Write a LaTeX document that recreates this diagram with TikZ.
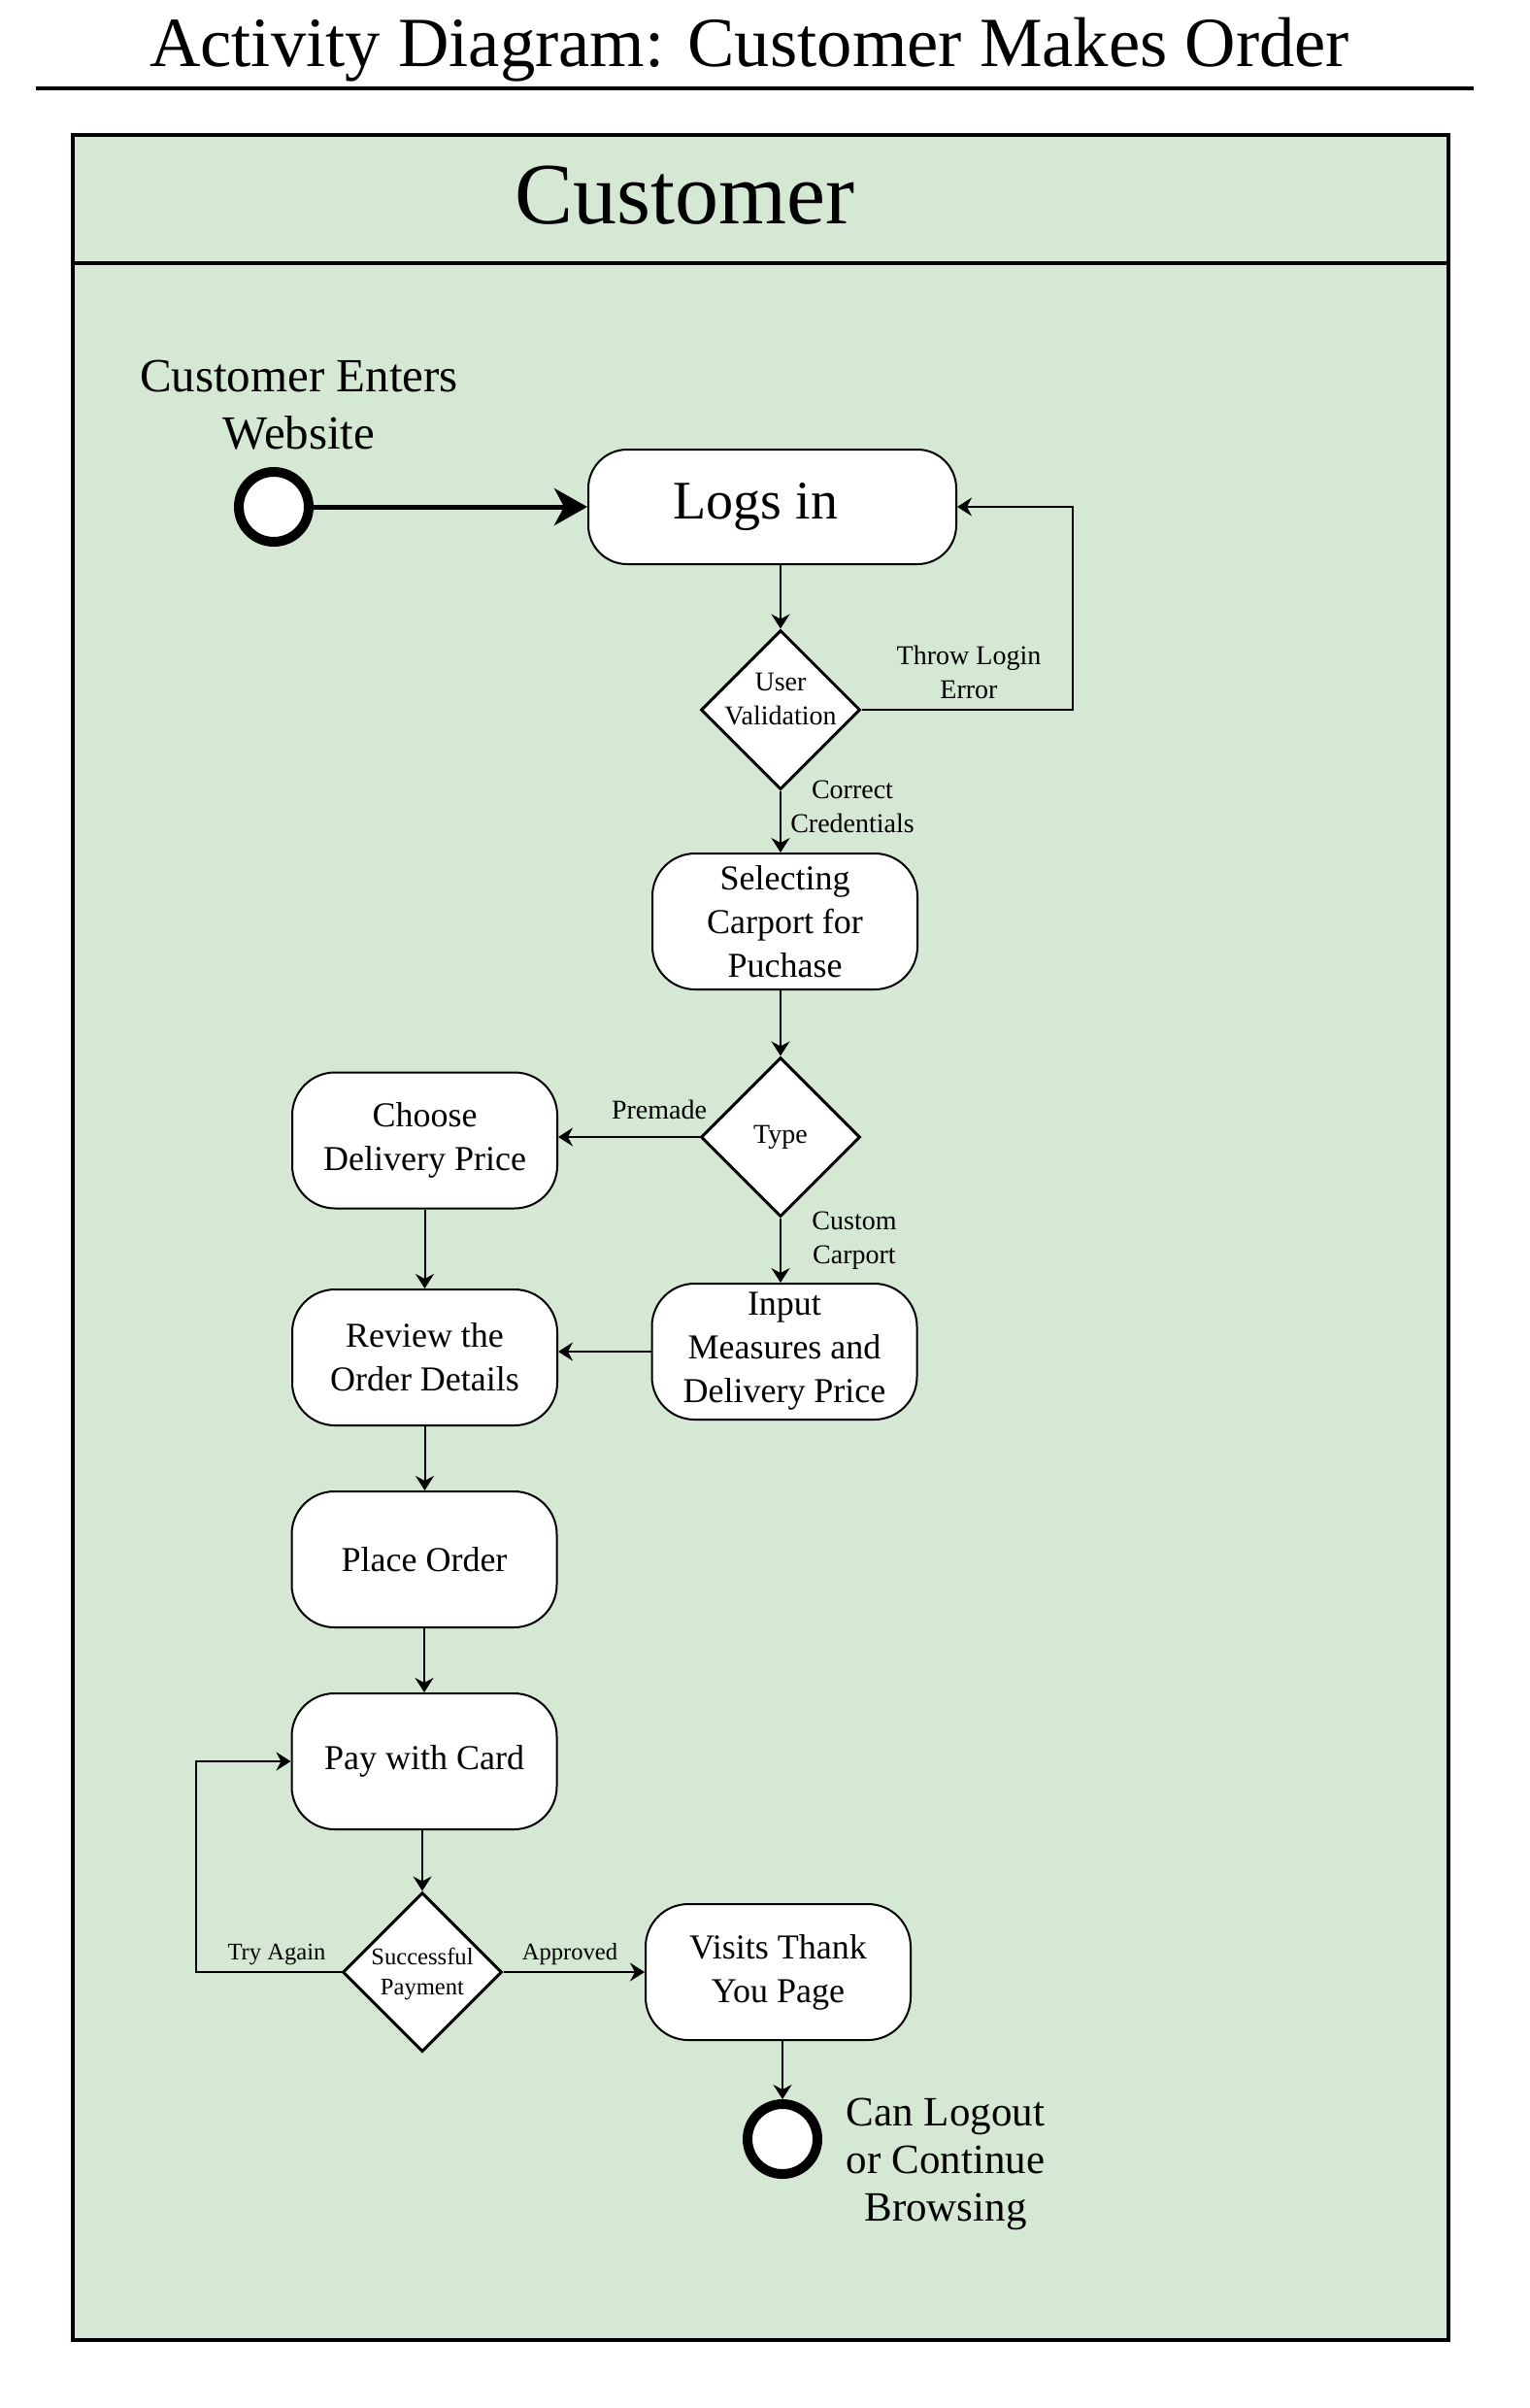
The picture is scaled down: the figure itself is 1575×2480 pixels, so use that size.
\documentclass[tikz,border=0pt]{standalone}
\usepackage{fontspec}
\setmainfont{Liberation Serif}
\usetikzlibrary{arrows.meta,shapes.geometric,calc}
\definecolor{lanegreen}{HTML}{D5E8D4}
\begin{document}
\begin{tikzpicture}[x=0.5pt,y=-0.5pt,
  box/.style={draw, line width=1pt, fill=white, rounded corners=22pt, inner sep=0pt, align=center,
    font=\fontsize{18}{22.5}\selectfont, minimum width=136.5pt, minimum height=70pt},
  dia/.style={draw, diamond, line width=1.5pt, fill=white, inner sep=0pt, minimum width=82pt, minimum height=82pt},
  term/.style={draw, circle, line width=5pt, fill=white, inner sep=0pt, minimum size=36pt},
  arr/.style={line width=1pt, -{Stealth[length=7.5pt,width=9.5pt,inset=2.5pt]}},
  lbl/.style={font=\fontsize{14}{17.5}\selectfont, align=center, inner sep=0pt},
  slbl/.style={font=\fontsize{12.3}{15.5}\selectfont, align=center, inner sep=0pt},
  big/.style={font=\fontsize{24.5}{29.5}\selectfont, align=center, inner sep=0pt}]
\useasboundingbox (0,0) rectangle (1575,2480);
\fill[white] (0,0) rectangle (1575,2480);
% title
\node[anchor=base, inner sep=0pt, font=\fontsize{36.3}{44}\selectfont] (title) at (772,68) {Activity Diagram: Customer Makes Order};
\draw[line width=2pt] (37,91) -- (1518,91);
% lane
\draw[line width=2pt, fill=lanegreen] (75,139) rectangle (1492,2409.5);
\draw[line width=2pt] (75,271) -- (1492,271);
\node[anchor=base, inner sep=0pt, font=\fontsize{45}{54}\selectfont] (lane) at (705,230) {Customer};
% nodes
\node[big] (enterlbl) at (308,417) {Customer Enters\\Website};
\node[term] (start) at (282,522) {};
\node[box, minimum width=189.5pt, minimum height=59pt, rounded corners=20pt, font=\fontsize{28}{33}\selectfont] (login) at (795.5,522) {Logs in\hspace*{17pt}};
\node[dia] (uv) at (804,731) {};
\node[lbl] (uvt) at (804,720) {User\\Validation};
\node[box] (sel) at (808.5,949) {Selecting\\Carport for\\Puchase};
\node[dia] (type) at (804,1171) {};
\node[lbl] (typet) at (804,1171) {Type};
\node[box] (choose) at (437.5,1174.5) {Choose\\Delivery Price};
\node[box] (input) at (808,1392) {Input\\Measures and\\Delivery Price};
\node[box] (review) at (437.5,1398) {Review the\\Order Details};
\node[box] (place) at (437,1606) {Place Order};
\node[box] (pay) at (437,1814) {Pay with Card};
\node[dia] (sp) at (435,2031) {};
\node[slbl] (spt) at (435,2033) {Successful\\Payment};
\node[box] (visits) at (801.5,2031) {Visits Thank\\You Page};
\node[term] (end) at (806,2203) {};
\node[big, font=\fontsize{21.5}{24.5}\selectfont] (endlbl) at (974,2229) {Can Logout\\or Continue\\Browsing};
% connector labels
\node[lbl] (throwlbl) at (998,692) {Throw Login\\Error};
\node[lbl] (corrlbl) at (878,831) {Correct\\Credentials};
\node[lbl, anchor=base] (premlbl) at (679,1152) {Premade};
\node[lbl] (custlbl) at (880,1278) {Custom\\Carport};
\node[slbl, anchor=base] (trylbl) at (285,2018) {Try Again};
\node[slbl, anchor=base] (applbl) at (587,2018) {Approved};
% connectors
\draw[line width=2.5pt, -{Stealth[length=17pt,width=19pt,inset=5pt]}] (start.east) -- (login.west);
\draw[arr] (login.south -| uv.north) -- (uv.north);
\coordinate (fb) at (1105,731);
\draw[arr] (uv.east) -- (fb) |- (login.east);
\draw[arr] (uv.south) -- (uv.south |- sel.north);
\draw[arr] (sel.south -| type.north) -- (type.north);
\draw[arr] (type.west) -- (type.west -| choose.east);
\draw[arr] (type.south) -- (type.south |- input.north);
\draw[arr] (choose.south) -- (choose.south |- review.north);
\draw[arr] (input.west) -- (input.west -| review.east);
\draw[arr] (review.south) -- (review.south |- place.north);
\draw[arr] (place.south) -- (place.south |- pay.north);
\draw[arr] (pay.south -| sp.north) -- (sp.north);
\coordinate (ta) at (202,2031);
\draw[arr] (sp.west) -- (ta) |- (pay.west);
\draw[arr] (sp.east) -- (sp.east -| visits.west);
\draw[arr] (visits.south -| end.north) -- (end.north);
\end{tikzpicture}
\end{document}
